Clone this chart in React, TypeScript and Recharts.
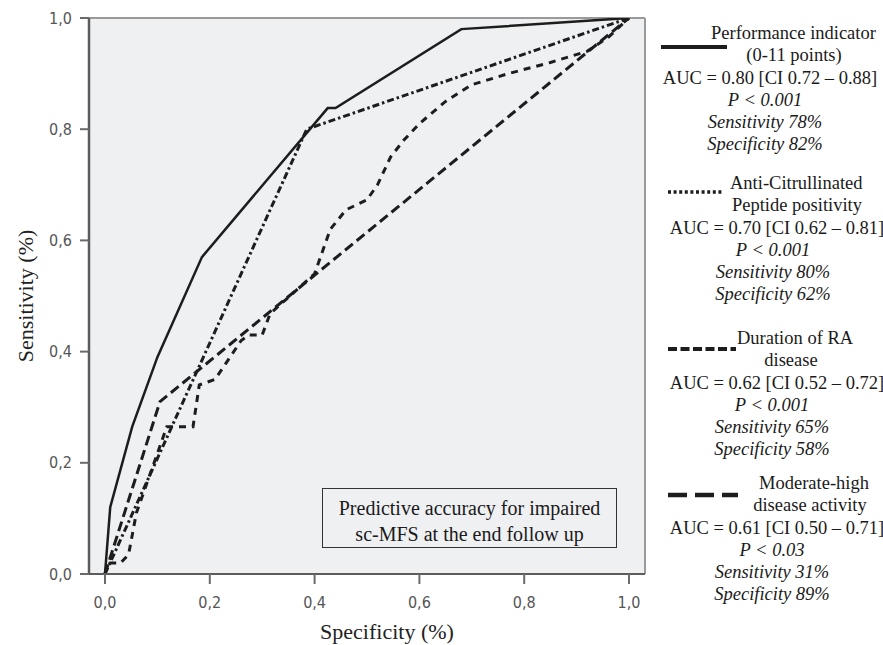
import React from "react";
import { LineChart, Line, XAxis, YAxis, CartesianGrid, ReferenceLine } from "recharts";

const SERIF = "'Liberation Serif', 'Times New Roman', serif";
const TICK_FONT = "'Liberation Sans Narrow', 'DejaVu Sans Condensed', 'Liberation Sans', sans-serif";
const INK = "#1d1d1d";

// ROC curves: x = 1 - specificity, y = sensitivity
const perfFpr = [0, 0.01, 0.052, 0.1, 0.185, 0.425, 0.44, 0.68, 1];
const perfTpr = [0, 0.12, 0.265, 0.39, 0.57, 0.838, 0.838, 0.98, 1];

const acpaFpr = [0, 0.385, 1];
const acpaTpr = [0, 0.8, 1];

const durFpr = [0, 0.005, 0.03, 0.045, 0.06, 0.09, 0.118, 0.168, 0.18, 0.21, 0.26, 0.275, 0.3, 0.315, 0.4, 0.43, 0.46, 0.5, 0.52, 0.545, 0.57, 0.6, 0.65, 0.7, 0.77, 0.85, 0.92, 0.96, 1];
const durTpr = [0, 0.02, 0.02, 0.035, 0.11, 0.19, 0.265, 0.265, 0.34, 0.35, 0.42, 0.43, 0.43, 0.468, 0.54, 0.62, 0.655, 0.673, 0.7, 0.75, 0.78, 0.81, 0.85, 0.88, 0.9, 0.92, 0.94, 0.965, 1];

const modFpr = [0, 0.105, 1];
const modTpr = [0, 0.31, 1];

const xTicks = [0, 0.2, 0.4, 0.6, 0.8, 1];
const yTicks = [0, 0.2, 0.4, 0.6, 0.8, 1];

const legendTitles = [
	["Performance indicator", "(0-11 points)"],
	["Anti-Citrullinated", "Peptide positivity"],
	["Duration of RA", "disease"],
	["Moderate-high", "disease  activity"],
];
const legendAuc = [
	"AUC = 0.80 [CI 0.72 – 0.88]",
	"AUC = 0.70 [CI 0.62 – 0.81]",
	"AUC = 0.62 [CI 0.52 – 0.72]",
	"AUC = 0.61 [CI 0.50 – 0.71]",
];
const legendP = ["P < 0.001", "P < 0.001", "P < 0.001", "P < 0.03"];
const legendSens = ["Sensitivity 78%", "Sensitivity 80%", "Sensitivity 65%", "Sensitivity 31%"];
const legendSpec = ["Specificity 82%", "Specificity 62%", "Specificity 58%", "Specificity  89%"];

const toPoints = (xs: number[], ys: number[]) => xs.map((x, i) => ({ x, y: ys[i] }));

const series = [
	{ key: "perf", data: toPoints(perfFpr, perfTpr), dash: undefined, width: 2.5 },
	{ key: "acpa", data: toPoints(acpaFpr, acpaTpr), dash: "7 3 2.5 3", width: 3 },
	{ key: "dur", data: toPoints(durFpr, durTpr), dash: "7 6", width: 3 },
	{ key: "mod", data: toPoints(modFpr, modTpr), dash: "10 5", width: 3 },
];

// legend block layout (pixel placement only)
const blocks = [
	{ top: 33, t1x: 711, t2x: 794, aucX: 770, statX: 765, sample: { x1: 661, x2: 727, dy: 14, dash: undefined, w: 4 } },
	{ top: 183, t1x: 730, t2x: 797, aucX: 777, statX: 773, sample: { x1: 668, x2: 722, dy: 9, dash: "3 2.6", w: 3.5 } },
	{ top: 338, t1x: 737, t2x: 791, aucX: 777, statX: 772, sample: { x1: 668, x2: 736, dy: 11, dash: "9 3.5", w: 4 } },
	{ top: 483, t1x: 759, t2x: 810, aucX: 777, statX: 772, sample: { x1: 668, x2: 738, dy: 12, dash: "19 8", w: 4.5 } },
];

const fmt = (v: number) => v.toFixed(1).replace(".", ",");

const YTitle = ({ viewBox }: any) => {
	const cx = 25;
	const cy = viewBox.y + viewBox.height / 2;
	return (
		<text x={cx} y={cy} transform={`rotate(-90 ${cx} ${cy})`} textAnchor="middle" dominantBaseline="central" fontFamily={SERIF} fontSize={22} fill="#222">
			Sensitivity (%)
		</text>
	);
};

const XTitle = ({ viewBox }: any) => (
	<text x={viewBox.x + viewBox.width / 2 + 20} y={viewBox.y + 65} textAnchor="middle" fontFamily={SERIF} fontSize={22} fill="#222">
		Specificity (%)
	</text>
);

function LegendOverlay() {
	const fs = 18.5;
	return (
		<svg width={883} height={645} style={{ position: "absolute", left: 0, top: 0, pointerEvents: "none" }}>
			{blocks.map((b, i) => (
				<g key={i} fontFamily={SERIF} fontSize={fs} fill="#1a1a1a">
					<line x1={b.sample.x1} x2={b.sample.x2} y1={b.top + b.sample.dy} y2={b.top + b.sample.dy} stroke={INK} strokeWidth={b.sample.w} strokeDasharray={b.sample.dash} />
					<text x={b.t1x} y={b.top + 6}>{legendTitles[i][0]}</text>
					<text x={b.t2x} y={b.top + 28} textAnchor="middle">{legendTitles[i][1]}</text>
					<text x={b.aucX} y={b.top + 51} textAnchor="middle">{legendAuc[i]}</text>
					<text x={b.statX} y={b.top + 73} textAnchor="middle" fontStyle="italic">{legendP[i]}</text>
					<text x={b.statX} y={b.top + 95} textAnchor="middle" fontStyle="italic">{legendSens[i]}</text>
					<text x={b.statX} y={b.top + 117} textAnchor="middle" fontStyle="italic">{legendSpec[i]}</text>
				</g>
			))}
		</svg>
	);
}

export default function App() {
	return (
		<div style={{ position: "absolute", left: 0, top: 0, width: 883, height: 645, background: "#fff" }}>
			<LineChart width={883} height={645} margin={{ top: 18, right: 238, bottom: 0, left: 0 }}>
				<CartesianGrid horizontal={false} vertical={false} fill="#eff0f2" />
				<XAxis
					dataKey="x"
					type="number"
					domain={[-0.0305, 1.0305]}
					allowDataOverflow
					ticks={xTicks}
					interval={0}
					tickFormatter={fmt}
					height={71}
					tickSize={10}
					tickMargin={13}
					axisLine={{ stroke: "#5c5c5c", strokeWidth: 2 }}
					tickLine={{ stroke: "#6a6a6a", strokeWidth: 2 }}
					tick={{ fill: "#555", fontSize: 16, fontFamily: TICK_FONT }}
					label={<XTitle />}
				/>
				<YAxis
					type="number"
					domain={[0, 1]}
					allowDataOverflow
					ticks={yTicks}
					interval={0}
					tickFormatter={fmt}
					width={89}
					tickSize={9}
					tickMargin={8}
					axisLine={{ stroke: "#5c5c5c", strokeWidth: 2.5 }}
					tickLine={{ stroke: "#6a6a6a", strokeWidth: 2 }}
					tick={{ fill: "#555", fontSize: 16, fontFamily: TICK_FONT }}
					label={<YTitle />}
				/>
				<ReferenceLine y={1} stroke="#9a9a9a" strokeWidth={2} />
				<ReferenceLine x={1.0305} stroke="#9a9a9a" strokeWidth={2} />
				{series.map((s) => (
					<Line
						key={s.key}
						data={s.data}
						dataKey="y"
						type="linear"
						stroke={INK}
						strokeWidth={s.width}
						strokeDasharray={s.dash}
						dot={false}
						activeDot={false}
						isAnimationActive={false}
					/>
				))}
			</LineChart>
			<div
				style={{
					position: "absolute",
					left: 322,
					top: 488,
					width: 295,
					height: 60,
					boxSizing: "border-box",
					border: "1px solid #333",
					fontFamily: SERIF,
					fontSize: 20,
					lineHeight: "26px",
					paddingTop: 6,
					textAlign: "center",
					color: "#1a1a1a",
				}}
			>
				Predictive accuracy for impaired
				<br />
				sc-MFS at the end follow up
			</div>
			<LegendOverlay />
		</div>
	);
}
